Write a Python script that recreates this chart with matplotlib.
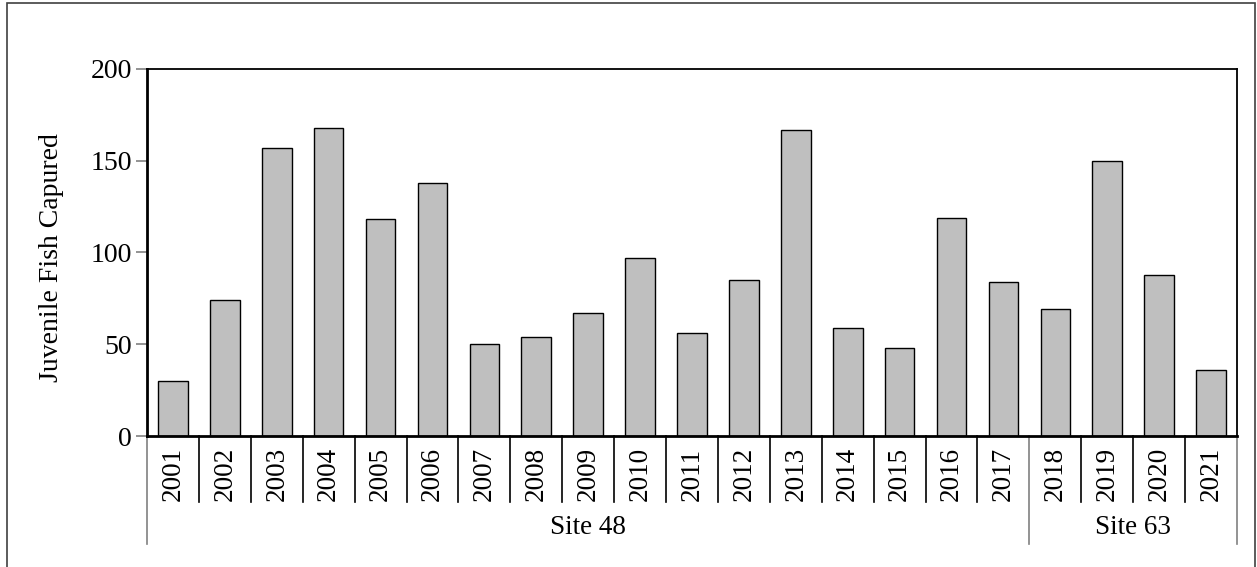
import matplotlib.pyplot as plt
from matplotlib.patches import Rectangle
import matplotlib.transforms as mtransforms

years = [str(y) for y in range(2001, 2022)]
fish = [30, 74, 157, 168, 118, 138, 50, 54, 67, 97, 56, 85, 167, 59, 48, 119, 84, 69, 150, 88, 36]
sites = ["Site 48", "Site 63"]
site_counts = [17, 4]

plt.rcParams["font.family"] = ["Liberation Serif", "DejaVu Serif"]
FS = 19.5

fig = plt.figure(figsize=(12.57, 5.67), dpi=100)
ax = fig.add_axes([147 / 1257, 131 / 567, 1090 / 1257, 367 / 567])

x = list(range(len(years)))
ax.bar(x, fish, width=0.57, color="#bfbfbf", edgecolor="black", linewidth=1.0, zorder=2)

ax.set_xlim(-0.5, len(years) - 0.5)
ax.set_ylim(0, 200)
ax.set_yticks([0, 50, 100, 150, 200])
ax.tick_params(axis="y", direction="out", length=8, width=1.2, color="#808080",
               labelsize=20, pad=3)
ax.set_xticks([])
ax.set_ylabel("Juvenile Fish Capured", fontsize=20)
ax.yaxis.set_label_coords(-0.076, 0.485)

for side in ["top", "right"]:
    ax.spines[side].set_linewidth(1.3)
ax.spines["left"].set_linewidth(2)
ax.spines["bottom"].set_linewidth(2)

trans = mtransforms.blended_transform_factory(ax.transData, ax.transAxes)

# year labels and separators
for i, yr in enumerate(years):
    ax.text(i, -0.104, yr, rotation=90, ha="center", va="center", fontsize=FS,
            transform=trans)

bounds = [-0.5]
for c in site_counts:
    bounds.append(bounds[-1] + c)

for b in range(len(years) + 1):
    bx = b - 0.5
    if bx in bounds:
        ax.plot([bx, bx], [0, -0.294], color="#808080", lw=1.2, transform=trans,
                clip_on=False)
    else:
        ax.plot([bx, bx], [0, -0.180], color="black", lw=1.2, transform=trans,
                clip_on=False)

# site labels
for s, lo, hi in zip(sites, bounds[:-1], bounds[1:]):
    ax.text((lo + hi) / 2, -0.248, s, ha="center", va="center", fontsize=FS,
            transform=trans)

# outer border
fig.patches.append(Rectangle((7 / 1257, -0.05), 1248 / 1257, 1.05 - 3 / 567,
                             transform=fig.transFigure, fill=False,
                             edgecolor="#404040", linewidth=1.2))

fig.savefig("out.png", dpi=100)
